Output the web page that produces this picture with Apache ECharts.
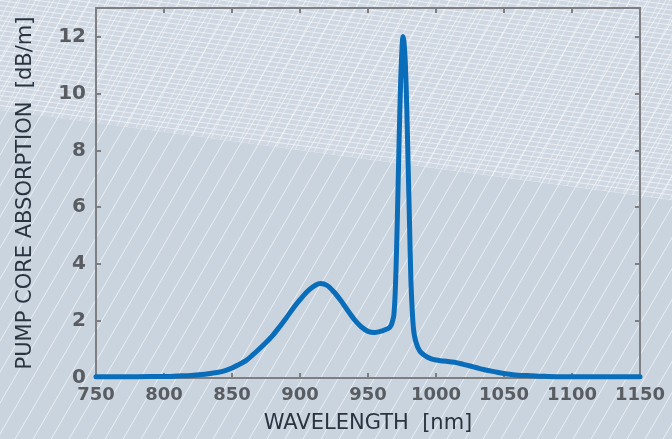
<!DOCTYPE html>
<html>
<head>
<meta charset="utf-8">
<script src="https://cdn.jsdelivr.net/npm/echarts@6/dist/echarts.min.js"></script>
<style>
html,body{margin:0;padding:0;background:#cad4df;}
#c{width:672px;height:439px;}
</style>
</head>
<body>
<div id="c"></div>
<script>
// Data
const wavelength = [750,770,790,800,810,820,830,840,845,850,855,860,865,870,875,880,885,890,895,900,905,910,915,920,925,930,935,940,945,950,955,960,965,967,968,969,970,971,972,973,974,975,975.7,976.5,977.5,978.5,979.5,980.5,981.5,982.5,983.5,985,988,992,996,1000,1005,1010,1015,1020,1025,1030,1035,1040,1045,1050,1060,1070,1080,1100,1120,1150];
const absorption = [0.04,0.04,0.05,0.05,0.07,0.09,0.13,0.2,0.26,0.35,0.47,0.6,0.8,1.02,1.25,1.5,1.8,2.12,2.45,2.75,3.02,3.22,3.32,3.25,3.02,2.72,2.38,2.05,1.8,1.64,1.6,1.65,1.74,1.85,2.0,2.2,3.0,4.5,6.5,8.6,10.4,11.6,12.0,11.8,11.0,9.5,7.5,5.5,3.5,2.4,1.7,1.3,0.95,0.78,0.68,0.63,0.6,0.57,0.54,0.48,0.42,0.36,0.3,0.25,0.2,0.16,0.1,0.08,0.06,0.04,0.04,0.04];
const xTicks = [750,800,850,900,950,1000,1050,1100,1150];
const yTicks = [0,2,4,6,8,10,12];

const points = wavelength.map((w,i)=>[w, absorption[i]]);

// decorative background patterns
function makeDiag(){
  const c=document.createElement('canvas'); c.width=18; c.height=31;
  const g=c.getContext('2d'); g.strokeStyle='rgba(255,255,255,0.6)'; g.lineWidth=1;
  [-18,0,18].forEach(o=>{g.beginPath(); g.moveTo(o,31); g.lineTo(o+18,0); g.stroke();});
  return c;
}
function makeDiagDense(){
  const c=document.createElement('canvas'); c.width=10; c.height=20;
  const g=c.getContext('2d'); g.strokeStyle='rgba(255,255,255,0.45)'; g.lineWidth=1;
  [-10,0,10].forEach(o=>{g.beginPath(); g.moveTo(o,20); g.lineTo(o+10,0); g.stroke();});
  return c;
}
function makeSlope(){
  const c=document.createElement('canvas'); c.width=75; c.height=5;
  const g=c.getContext('2d'); g.strokeStyle='rgba(255,255,255,0.55)'; g.lineWidth=1;
  for(let k=-3;k<=2;k++){g.beginPath(); g.moveTo(0,k*5+0.5); g.lineTo(75,k*5+10.5); g.stroke();}
  return c;
}
const diag = makeDiag(), diagDense = makeDiagDense(), slope = makeSlope();
const topRegion = [[0,0],[672,0],[672,200],[0,110]];

const chart = echarts.init(document.getElementById('c'), null, {renderer:'canvas'});
const labelFont = 'DejaVu Sans';
chart.setOption({
  backgroundColor: '#cad4df',
  animation: false,
  graphic: [
    {type:'rect', z:-100, silent:true, shape:{x:0,y:0,width:672,height:439}, style:{fill:{image:diag, repeat:'repeat'}}},
    {type:'polygon', z:-99, silent:true, shape:{points:topRegion}, style:{fill:'rgba(255,255,255,0.1)'}},
    {type:'polygon', z:-98, silent:true, shape:{points:topRegion}, style:{fill:{image:diagDense, repeat:'repeat'}}},
    {type:'polygon', z:-97, silent:true, shape:{points:topRegion}, style:{fill:{image:slope, repeat:'repeat'}}}
  ],
  grid: {left:96, right:32, top:8, bottom:61, containLabel:false},
  xAxis: [
    {type:'value', min:750, max:1150, interval:50, position:'bottom',
     name:'WAVELENGTH  [nm]', nameLocation:'middle', nameGap:35,
     nameTextStyle:{fontFamily:labelFont, fontSize:21, color:'#2a3441'},
     axisLine:{show:true, onZero:false, lineStyle:{color:'#7d7f82', width:2}},
     axisTick:{show:true, inside:true, length:5, lineStyle:{color:'#7d7f82', width:2}},
     axisLabel:{margin:8, fontFamily:labelFont, fontWeight:'bold', fontSize:18, color:'#595d62',
       formatter:v=>xTicks.includes(v)?String(v):''},
     splitLine:{show:false}},
    {type:'value', min:750, max:1150, interval:50, position:'top',
     axisLine:{show:true, onZero:false, lineStyle:{color:'#7d7f82', width:2}},
     axisTick:{show:true, inside:true, length:5, lineStyle:{color:'#7d7f82', width:2}},
     axisLabel:{show:false}, splitLine:{show:false}}
  ],
  yAxis: [
    {type:'value', min:0, max:13, interval:2, position:'left',
     name:'PUMP CORE ABSORPTION  [dB/m]', nameLocation:'middle', nameGap:60,
     nameTextStyle:{fontFamily:labelFont, fontSize:21, color:'#2a3441'},
     axisLine:{show:true, onZero:false, lineStyle:{color:'#7d7f82', width:2}},
     axisTick:{show:true, inside:true, length:5, lineStyle:{color:'#7d7f82', width:2}},
     axisLabel:{margin:10, fontFamily:labelFont, fontWeight:'bold', fontSize:20, color:'#595d62',
       formatter:v=>yTicks.includes(v)?String(v):''},
     splitLine:{show:false}},
    {type:'value', min:0, max:13, interval:2, position:'right',
     axisLine:{show:true, onZero:false, lineStyle:{color:'#7d7f82', width:2}},
     axisTick:{show:true, inside:true, length:5, lineStyle:{color:'#7d7f82', width:2}},
     axisLabel:{show:false}, splitLine:{show:false}}
  ],
  series: [{
    type:'line', data: points, xAxisIndex:0, yAxisIndex:0,
    showSymbol:false, smooth:0.3, z:5,
    lineStyle:{color:'#0a6dba', width:5, cap:'round', join:'round'}
  }]
});
</script>
</body>
</html>
